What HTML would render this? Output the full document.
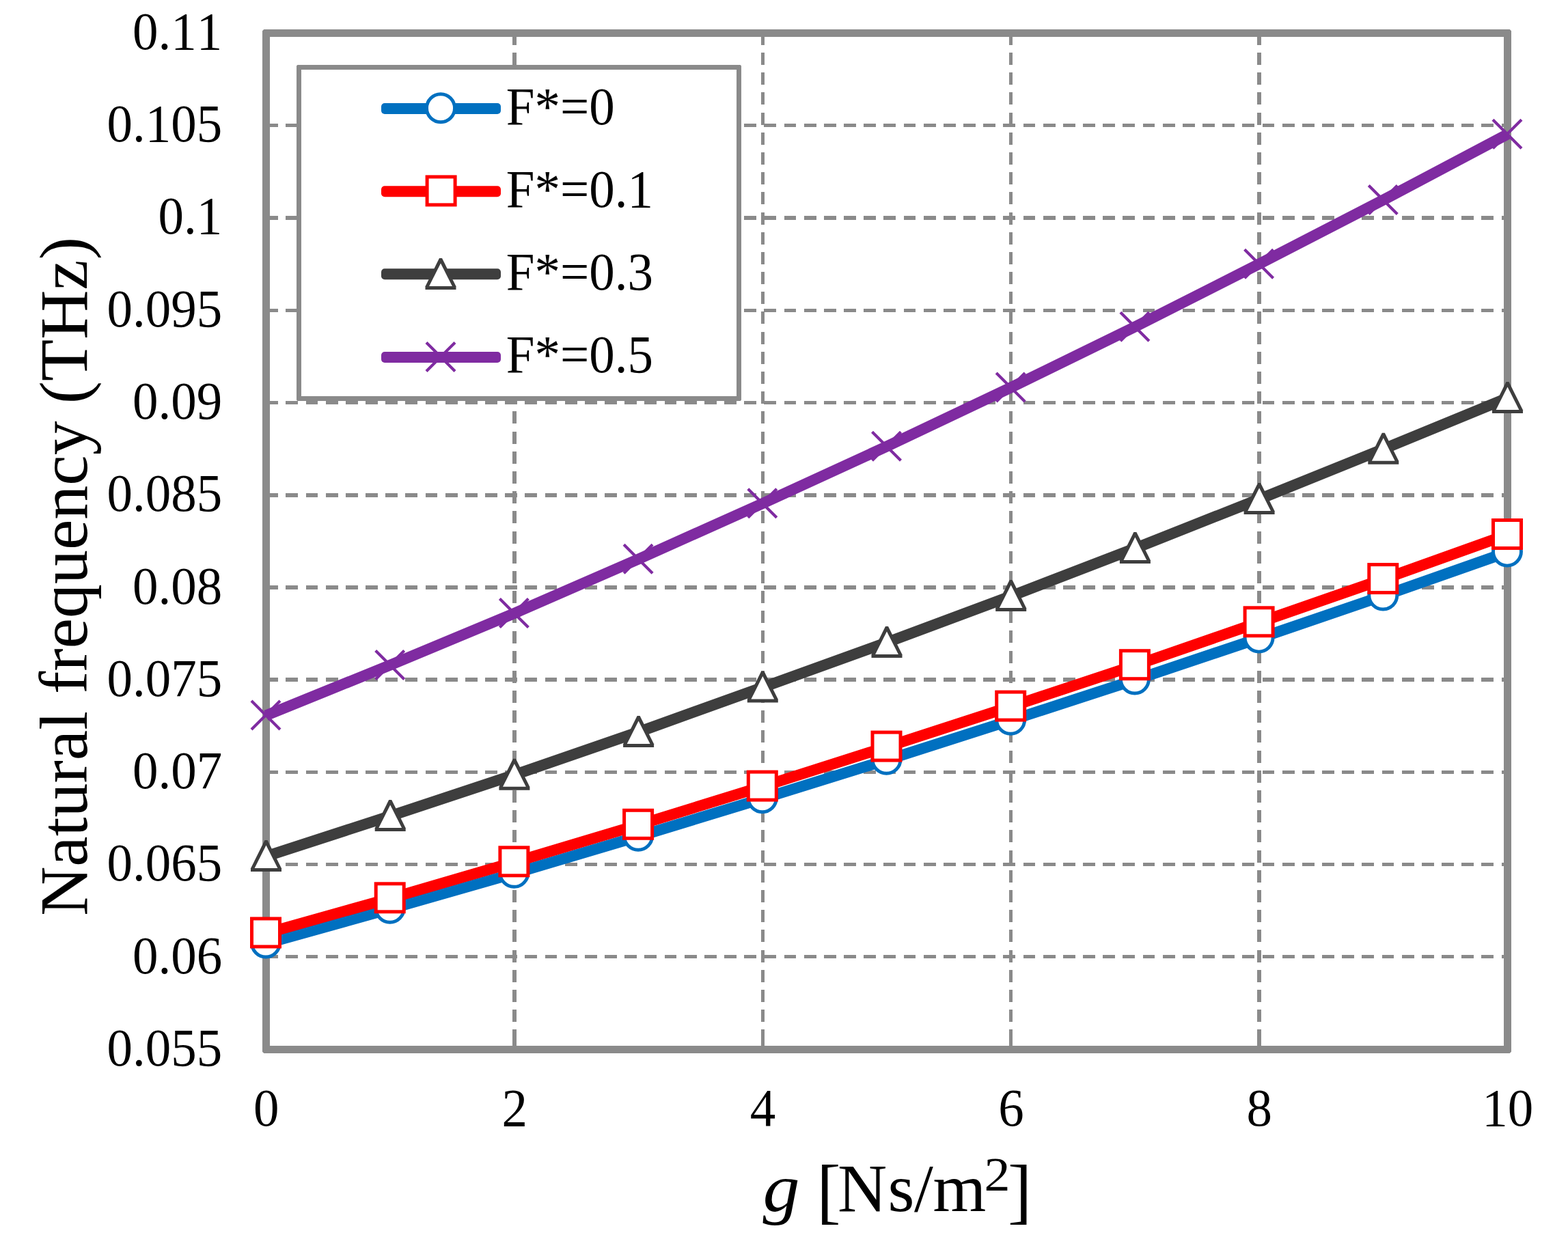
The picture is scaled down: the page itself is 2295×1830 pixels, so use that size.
<!DOCTYPE html>
<html lang="en">
<head>
<meta charset="utf-8">
<title>Natural frequency (THz) versus g [Ns/m2]</title>
<style>
html,body{margin:0;padding:0;background:#fff;}
body{width:2295px;height:1830px;overflow:hidden;}
svg{display:block;}
text{font-family:"Liberation Serif","DejaVu Serif",serif;fill:#000;font-kerning:none;font-variant-ligatures:none;}
.tick{font-size:75px;}
.title{font-size:100px;}
.leg{font-size:75px;}
</style>
</head>
<body>
<svg width="2295" height="1830" viewBox="0 0 2295 1830">
<rect x="0" y="0" width="2295" height="1830" fill="#fff"/>
<g stroke="#8a8a8a" stroke-dasharray="17.8 11.3667" stroke-dashoffset="0.3" fill="none" shape-rendering="crispEdges">
<line x1="389.5" y1="183.5" x2="2206.5" y2="183.5" stroke-width="5"/>
<line x1="389.5" y1="319" x2="2206.5" y2="319" stroke-width="6"/>
<line x1="389.5" y1="454.5" x2="2206.5" y2="454.5" stroke-width="5"/>
<line x1="389.5" y1="589.5" x2="2206.5" y2="589.5" stroke-width="5"/>
<line x1="389.5" y1="725" x2="2206.5" y2="725" stroke-width="6"/>
<line x1="389.5" y1="860" x2="2206.5" y2="860" stroke-width="6"/>
<line x1="389.5" y1="995" x2="2206.5" y2="995" stroke-width="6"/>
<line x1="389.5" y1="1130.5" x2="2206.5" y2="1130.5" stroke-width="5"/>
<line x1="389.5" y1="1265.5" x2="2206.5" y2="1265.5" stroke-width="5"/>
<line x1="389.5" y1="1400.5" x2="2206.5" y2="1400.5" stroke-width="5"/>
<line x1="753" y1="48.5" x2="753" y2="1536.5" stroke-width="6" stroke-dasharray="18 11.19" stroke-dashoffset="0.7"/>
<line x1="1116.5" y1="48.5" x2="1116.5" y2="1536.5" stroke-width="5" stroke-dasharray="18 11.19" stroke-dashoffset="0.7"/>
<line x1="1479.5" y1="48.5" x2="1479.5" y2="1536.5" stroke-width="5" stroke-dasharray="18 11.19" stroke-dashoffset="0.7"/>
<line x1="1843" y1="48.5" x2="1843" y2="1536.5" stroke-width="6" stroke-dasharray="18 11.19" stroke-dashoffset="0.7"/>
</g>
<g fill="#8a8a8a" shape-rendering="crispEdges">
<rect x="750" y="1523" width="6" height="10"/>
<rect x="1114" y="1523" width="5" height="10"/>
<rect x="1477" y="1523" width="5" height="10"/>
<rect x="1840" y="1523" width="6" height="10"/>
</g>
<rect x="389.5" y="48.5" width="1817" height="1488" fill="none" stroke="#8a8a8a" stroke-width="11" shape-rendering="crispEdges"/>
<polygon points="384,43 386.3,43 384,45.3" fill="#fff"/><polygon points="2212,43 2209.7,43 2212,45.3" fill="#fff"/><polygon points="384,1542 386.3,1542 384,1539.7" fill="#fff"/><polygon points="2212,1542 2209.7,1542 2212,1539.7" fill="#fff"/>
<g>
<polyline points="389.5,1381.3 571.2,1330.6 752.9,1278.6 934.6,1224.5 1116.3,1169.1 1298,1112.6 1479.7,1054.5 1661.4,995.3 1843.1,934.4 2024.8,872.3 2206.5,808.4" fill="none" stroke="#0070c0" stroke-width="16" stroke-linejoin="round"/>
<circle cx="389" cy="1380.5" r="20.5" fill="#fff" stroke="#0070c0" stroke-width="4.9"/>
<circle cx="570.7" cy="1329.8" r="20.5" fill="#fff" stroke="#0070c0" stroke-width="4.9"/>
<circle cx="752.4" cy="1277.8" r="20.5" fill="#fff" stroke="#0070c0" stroke-width="4.9"/>
<circle cx="934.1" cy="1223.7" r="20.5" fill="#fff" stroke="#0070c0" stroke-width="4.9"/>
<circle cx="1115.8" cy="1168.3" r="20.5" fill="#fff" stroke="#0070c0" stroke-width="4.9"/>
<circle cx="1297.5" cy="1111.8" r="20.5" fill="#fff" stroke="#0070c0" stroke-width="4.9"/>
<circle cx="1479.2" cy="1053.7" r="20.5" fill="#fff" stroke="#0070c0" stroke-width="4.9"/>
<circle cx="1660.9" cy="994.5" r="20.5" fill="#fff" stroke="#0070c0" stroke-width="4.9"/>
<circle cx="1842.6" cy="933.6" r="20.5" fill="#fff" stroke="#0070c0" stroke-width="4.9"/>
<circle cx="2024.3" cy="871.5" r="20.5" fill="#fff" stroke="#0070c0" stroke-width="4.9"/>
<circle cx="2206" cy="807.6" r="20.5" fill="#fff" stroke="#0070c0" stroke-width="4.9"/>
<polyline points="389.5,1366.2 571.2,1315.1 752.9,1262.1 934.6,1207.6 1116.3,1151.4 1298,1093.4 1479.7,1034.4 1661.4,974 1843.1,911.1 2024.8,847.9 2206.5,782.8" fill="none" stroke="#ff0000" stroke-width="16" stroke-linejoin="round"/>
<rect x="368.5" y="1344.9" width="41" height="41" fill="#fff" stroke="#ff0000" stroke-width="5"/>
<rect x="550.2" y="1293.8" width="41" height="41" fill="#fff" stroke="#ff0000" stroke-width="5"/>
<rect x="731.9" y="1240.8" width="41" height="41" fill="#fff" stroke="#ff0000" stroke-width="5"/>
<rect x="913.6" y="1186.3" width="41" height="41" fill="#fff" stroke="#ff0000" stroke-width="5"/>
<rect x="1095.3" y="1130.1" width="41" height="41" fill="#fff" stroke="#ff0000" stroke-width="5"/>
<rect x="1277" y="1072.1" width="41" height="41" fill="#fff" stroke="#ff0000" stroke-width="5"/>
<rect x="1458.7" y="1013.1" width="41" height="41" fill="#fff" stroke="#ff0000" stroke-width="5"/>
<rect x="1640.4" y="952.7" width="41" height="41" fill="#fff" stroke="#ff0000" stroke-width="5"/>
<rect x="1822.1" y="889.8" width="41" height="41" fill="#fff" stroke="#ff0000" stroke-width="5"/>
<rect x="2003.8" y="826.6" width="41" height="41" fill="#fff" stroke="#ff0000" stroke-width="5"/>
<rect x="2185.5" y="761.5" width="41" height="41" fill="#fff" stroke="#ff0000" stroke-width="5"/>
<polyline points="389.5,1253.7 571.2,1194.6 752.9,1134.4 934.6,1071.6 1116.3,1006.2 1298,940.6 1479.7,872.7 1661.4,802.7 1843.1,730.7 2024.8,657.4 2206.5,582.6" fill="none" stroke="#3e3e3e" stroke-width="16" stroke-linejoin="round"/>
<polygon points="367,1276 367,1271.3 387.5,1230 391.5,1230 412,1271.3 412,1276" fill="#3e3e3e"/><polygon points="372.6,1271.1 389.5,1237.6 406.4,1271.1" fill="#fff"/>
<polygon points="548.7,1216.9 548.7,1212.2 569.2,1170.9 573.2,1170.9 593.7,1212.2 593.7,1216.9" fill="#3e3e3e"/><polygon points="554.3,1212 571.2,1178.5 588.1,1212" fill="#fff"/>
<polygon points="730.4,1156.7 730.4,1152 750.9,1110.7 754.9,1110.7 775.4,1152 775.4,1156.7" fill="#3e3e3e"/><polygon points="736,1151.8 752.9,1118.3 769.8,1151.8" fill="#fff"/>
<polygon points="912.1,1093.9 912.1,1089.2 932.6,1047.9 936.6,1047.9 957.1,1089.2 957.1,1093.9" fill="#3e3e3e"/><polygon points="917.7,1089 934.6,1055.5 951.5,1089" fill="#fff"/>
<polygon points="1093.8,1028.5 1093.8,1023.8 1114.3,982.5 1118.3,982.5 1138.8,1023.8 1138.8,1028.5" fill="#3e3e3e"/><polygon points="1099.4,1023.6 1116.3,990.1 1133.2,1023.6" fill="#fff"/>
<polygon points="1275.5,962.9 1275.5,958.2 1296,916.9 1300,916.9 1320.5,958.2 1320.5,962.9" fill="#3e3e3e"/><polygon points="1281.1,958 1298,924.5 1314.9,958" fill="#fff"/>
<polygon points="1457.2,895 1457.2,890.3 1477.7,849 1481.7,849 1502.2,890.3 1502.2,895" fill="#3e3e3e"/><polygon points="1462.8,890.1 1479.7,856.6 1496.6,890.1" fill="#fff"/>
<polygon points="1638.9,825 1638.9,820.3 1659.4,779 1663.4,779 1683.9,820.3 1683.9,825" fill="#3e3e3e"/><polygon points="1644.5,820.1 1661.4,786.6 1678.3,820.1" fill="#fff"/>
<polygon points="1820.6,753 1820.6,748.3 1841.1,707 1845.1,707 1865.6,748.3 1865.6,753" fill="#3e3e3e"/><polygon points="1826.2,748.1 1843.1,714.6 1860,748.1" fill="#fff"/>
<polygon points="2002.3,679.7 2002.3,675 2022.8,633.7 2026.8,633.7 2047.3,675 2047.3,679.7" fill="#3e3e3e"/><polygon points="2007.9,674.8 2024.8,641.3 2041.7,674.8" fill="#fff"/>
<polygon points="2184,604.9 2184,600.2 2204.5,558.9 2208.5,558.9 2229,600.2 2229,604.9" fill="#3e3e3e"/><polygon points="2189.6,600 2206.5,566.5 2223.4,600" fill="#fff"/>
<polyline points="389.5,1047.3 571.2,973.7 752.9,897.8 934.6,818.5 1116.3,737 1298,653.5 1479.7,567.3 1661.4,478.4 1843.1,386.4 2024.8,292.7 2206.5,196.5" fill="none" stroke="#7f2ba1" stroke-width="16" stroke-linejoin="round"/>
<path d="M368 1026.1L410 1068.1M368 1068.1L410 1026.1" stroke="#7f2ba1" stroke-width="4.2" fill="none"/>
<path d="M549.7 952.5L591.7 994.5M549.7 994.5L591.7 952.5" stroke="#7f2ba1" stroke-width="4.2" fill="none"/>
<path d="M731.4 876.6L773.4 918.6M731.4 918.6L773.4 876.6" stroke="#7f2ba1" stroke-width="4.2" fill="none"/>
<path d="M913.1 797.3L955.1 839.3M913.1 839.3L955.1 797.3" stroke="#7f2ba1" stroke-width="4.2" fill="none"/>
<path d="M1094.8 715.8L1136.8 757.8M1094.8 757.8L1136.8 715.8" stroke="#7f2ba1" stroke-width="4.2" fill="none"/>
<path d="M1276.5 632.3L1318.5 674.3M1276.5 674.3L1318.5 632.3" stroke="#7f2ba1" stroke-width="4.2" fill="none"/>
<path d="M1458.2 546.1L1500.2 588.1M1458.2 588.1L1500.2 546.1" stroke="#7f2ba1" stroke-width="4.2" fill="none"/>
<path d="M1639.9 457.2L1681.9 499.2M1639.9 499.2L1681.9 457.2" stroke="#7f2ba1" stroke-width="4.2" fill="none"/>
<path d="M1821.6 365.2L1863.6 407.2M1821.6 407.2L1863.6 365.2" stroke="#7f2ba1" stroke-width="4.2" fill="none"/>
<path d="M2003.3 271.5L2045.3 313.5M2003.3 313.5L2045.3 271.5" stroke="#7f2ba1" stroke-width="4.2" fill="none"/>
<path d="M2185 175.3L2227 217.3M2185 217.3L2227 175.3" stroke="#7f2ba1" stroke-width="4.2" fill="none"/>
</g>
<rect x="437.5" y="98.5" width="644" height="485" fill="#fff" stroke="#8a8a8a" stroke-width="7" shape-rendering="crispEdges"/>
<polygon points="434,95 435.4,95 434,96.4" fill="#fff"/><polygon points="1085,95 1083.6,95 1085,96.4" fill="#fff"/><polygon points="434,587 435.4,587 434,585.6" fill="#fff"/><polygon points="1085,587 1083.6,587 1085,585.6" fill="#fff"/>
<rect x="558" y="151" width="175" height="16" rx="5" ry="5" fill="#0070c0"/>
<circle cx="645" cy="158.2" r="20.5" fill="#fff" stroke="#0070c0" stroke-width="4.9"/>
<rect x="558" y="272.2" width="175" height="16" rx="5" ry="5" fill="#ff0000"/>
<rect x="625.1" y="258.9" width="41" height="41" fill="#fff" stroke="#ff0000" stroke-width="5"/>
<rect x="558" y="393.2" width="175" height="16" rx="5" ry="5" fill="#3e3e3e"/>
<polygon points="622.5,423.9 622.5,419.2 643,377.9 647,377.9 667.5,419.2 667.5,423.9" fill="#3e3e3e"/><polygon points="628.1,419 645,385.5 661.9,419" fill="#fff"/>
<rect x="558" y="515" width="175" height="16" rx="5" ry="5" fill="#7f2ba1"/>
<path d="M624 501.4L666 543.4M624 543.4L666 501.4" stroke="#7f2ba1" stroke-width="4.2" fill="none"/>
<text class="leg" transform="translate(740.8 181.9) scale(1 1.03)">F*=0</text>
<text class="leg" transform="translate(740.8 302.95) scale(1 1.03)">F*=0.1</text>
<text class="leg" transform="translate(740.8 424) scale(1 1.03)">F*=0.3</text>
<text class="leg" transform="translate(740.8 545.05) scale(1 1.03)">F*=0.5</text>
<g class="tick" text-anchor="end">
<text transform="translate(325.2 71.9) scale(1 1.035)">0.11</text>
<text transform="translate(325.2 207.17) scale(1 1.035)">0.105</text>
<text transform="translate(325.2 342.45) scale(1 1.035)">0.1</text>
<text transform="translate(325.2 477.72) scale(1 1.035)">0.095</text>
<text transform="translate(325.2 612.99) scale(1 1.035)">0.09</text>
<text transform="translate(325.2 748.26) scale(1 1.035)">0.085</text>
<text transform="translate(325.2 883.54) scale(1 1.035)">0.08</text>
<text transform="translate(325.2 1018.81) scale(1 1.035)">0.075</text>
<text transform="translate(325.2 1154.08) scale(1 1.035)">0.07</text>
<text transform="translate(325.2 1289.35) scale(1 1.035)">0.065</text>
<text transform="translate(325.2 1424.63) scale(1 1.035)">0.06</text>
<text transform="translate(325.2 1559.9) scale(1 1.035)">0.055</text>
</g>
<g class="tick" text-anchor="middle">
<text transform="translate(389.75 1647.7) scale(1 1.035)">0</text>
<text transform="translate(753.15 1647.7) scale(1 1.035)">2</text>
<text transform="translate(1116.55 1647.7) scale(1 1.035)">4</text>
<text transform="translate(1479.95 1647.7) scale(1 1.035)">6</text>
<text transform="translate(1843.35 1647.7) scale(1 1.035)">8</text>
<text transform="translate(2206.75 1647.7) scale(1 1.035)">10</text>
</g>
<text class="title" y="1773"><tspan x="1116.6" font-style="italic" textLength="54" lengthAdjust="spacingAndGlyphs">g</tspan><tspan> </tspan><tspan x="1195.2" dy="5.5" font-size="106px">[</tspan><tspan x="1226 1299.5 1338.1 1365.6" dy="-5.5">Ns/m</tspan><tspan x="1440.4" dy="-29.8" font-size="70px" textLength="38" lengthAdjust="spacingAndGlyphs">2</tspan><tspan x="1475.1" dy="35.3" font-size="106px">]</tspan></text>
<text class="title" transform="translate(126.8 1340.85) rotate(-90)">Natural frequency (THz)</text>
</svg>
</body>
</html>
